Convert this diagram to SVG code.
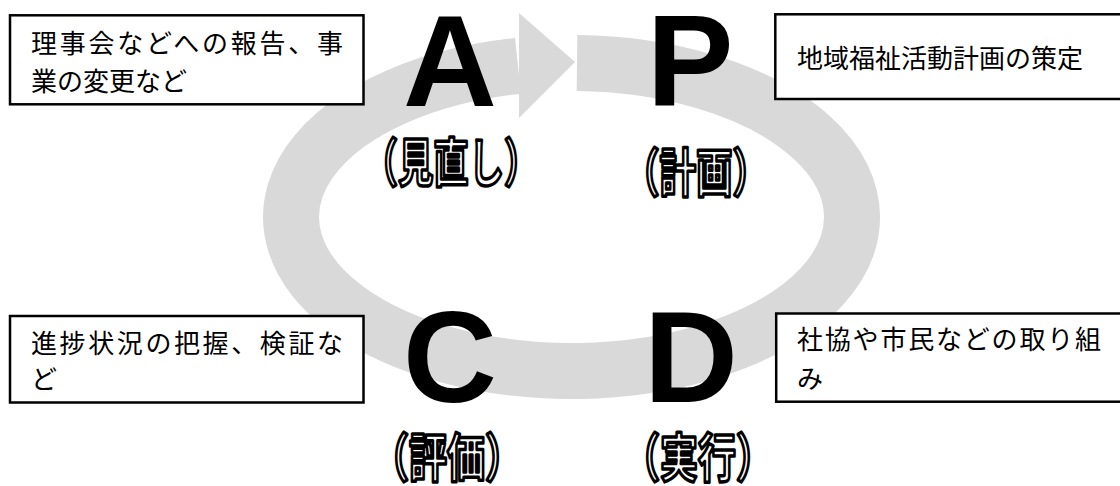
<svg xmlns="http://www.w3.org/2000/svg" width="1120" height="486" viewBox="0 0 1120 486">
<style>
.ring{fill:none;stroke:#d9d9d9;stroke-width:56}
.head{fill:#d9d9d9}
.big{font-family:"Liberation Sans",Arial,sans-serif;font-weight:bold;font-size:130px;fill:#000}
.lbl{font-family:"Noto Sans CJK JP",sans-serif;font-weight:bold;font-size:52px;fill:#fff;stroke:#000;stroke-width:3.5;stroke-linejoin:round;text-anchor:middle}
.box{fill:#fff;stroke:#000;stroke-width:2.5}
.txt{font-family:"Noto Sans CJK JP",sans-serif;font-size:26px;fill:#000}
</style>
<rect width="1120" height="486" fill="#fff"/>
<g id="connectors">
<path class="ring" d="M 577 63.03 A 280.5 154 0 1 1 518 65.83"/>
<polygon class="head" points="519,13 575,62 519,118"/>
</g>
<g id="node-A">
<text class="big" x="450" y="106" text-anchor="middle">A</text>
<text class="lbl" x="451" y="182" textLength="177" lengthAdjust="spacingAndGlyphs">（見直し）</text>
</g>
<g id="node-P">
<text class="big" x="690" y="106" text-anchor="middle">P</text>
<text class="lbl" x="696" y="192" textLength="146" lengthAdjust="spacingAndGlyphs">（計画）</text>
</g>
<g id="node-C">
<text class="big" x="450" y="402" text-anchor="middle">C</text>
<text class="lbl" x="447" y="477" textLength="152" lengthAdjust="spacingAndGlyphs">（評価）</text>
</g>
<g id="node-D">
<text class="big" x="691" y="402" text-anchor="middle">D</text>
<text class="lbl" x="698" y="477" textLength="152" lengthAdjust="spacingAndGlyphs">（実行）</text>
</g>
<g id="box-act">
<rect class="box" x="10" y="15.3" width="353.5" height="89"/>
<text class="txt" x="31" y="53" textLength="312">理事会などへの報告、事</text>
<text class="txt" x="31" y="91">業の変更など</text>
</g>
<g id="box-plan">
<rect class="box" x="775.3" y="14.3" width="352" height="84.7"/>
<text class="txt" x="797" y="68">地域福祉活動計画の策定</text>
</g>
<g id="box-check">
<rect class="box" x="10" y="316" width="353.5" height="86.5"/>
<text class="txt" x="31" y="353" textLength="312">進捗状況の把握、検証な</text>
<text class="txt" x="31" y="389">ど</text>
</g>
<g id="box-do">
<rect class="box" x="776.2" y="313.5" width="352" height="88.2"/>
<text class="txt" x="797" y="349" textLength="304">社協や市民などの取り組</text>
<text class="txt" x="797" y="388">み</text>
</g>
</svg>
